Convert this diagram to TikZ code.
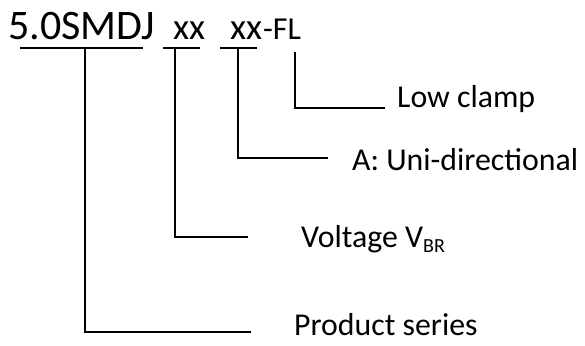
\documentclass[tikz,border=0pt]{standalone}
\usepackage{fontspec}
\setmainfont{Carlito}
\begin{document}
\begin{tikzpicture}[x=1pt,y=-1pt,
  big/.style={anchor=base west,inner sep=0pt,font=\fontsize{42}{48}\selectfont},
  code/.style={anchor=base west,inner sep=0pt,font=\fontsize{37}{42}\selectfont},
  flstyle/.style={anchor=base west,inner sep=0pt,font=\fontsize{32}{36}\selectfont},
  lab/.style={anchor=base west,inner sep=0pt,font=\fontsize{31.8}{38}\selectfont},
  ln/.style={line width=2.8pt,line cap=butt,line join=miter}]
\useasboundingbox (0,0) rectangle (585,345);
% top code
\node[big] (series) at (8,39) {5.0SMDJ};
\node[code] (xx1) at (173,40) {xx};
\node[code] (xx2) at (230,40) {xx};
\node[flstyle] (fl) at (263,40) {-FL};
% underlines
\draw[ln] (20,48) -- (143,48);
\draw[ln] (163,48) -- (200,48);
\draw[ln] (220,48) -- (257,48);
% labels
\node[lab] (low) at (397,107) {Low clamp};
\node[lab] (uni) at (352,170) {A: Uni-directional};
\node[lab] (volt) at (301,247) {Voltage V\raisebox{-5pt}{\fontsize{20}{23}\selectfont BR}};
\node[lab] (prod) at (294,335) {Product series};
% connector ends
\coordinate (s1) at (85,48);   \coordinate (e1) at (251,332);
\coordinate (s2) at (175,48);  \coordinate (e2) at (248,237);
\coordinate (s3) at (238,48);  \coordinate (e3) at (328,158);
\coordinate (s4) at (295,52);  \coordinate (e4) at (385,108);
\draw[ln] (s1) |- (e1);
\draw[ln] (s2) |- (e2);
\draw[ln] (s3) |- (e3);
\draw[ln] (s4) |- (e4);
\end{tikzpicture}
\end{document}
